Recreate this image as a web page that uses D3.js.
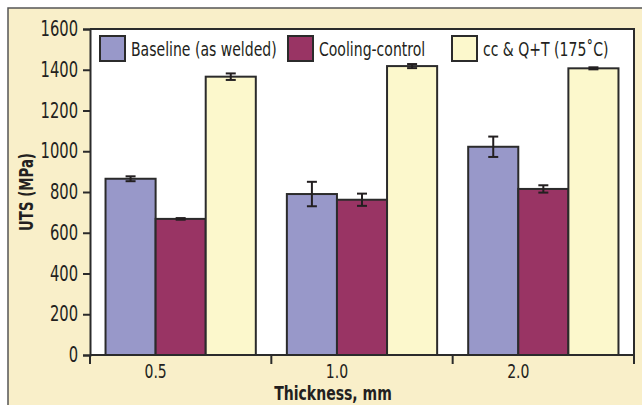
<!DOCTYPE html>
<html>
<head>
<meta charset="utf-8">
<script src="https://cdn.jsdelivr.net/npm/d3@7"></script>
<style>
  body { margin: 0; background: #fff; }
  text { font-family: "DejaVu Sans Condensed", "Liberation Sans", sans-serif; fill: #231f20; }
</style>
</head>
<body>
<div id="chart"></div>
<script>
// data
const thickness = ["0.5", "1.0", "2.0"];
const series = ["Baseline (as welded)", "Cooling-control", "cc & Q+T (175\u02daC)"];
const baseline = [865, 790, 1022];
const baselineErr = [12, 60, 50];
const cooling = [668, 762, 815];
const coolingErr = [4, 30, 18];
const ccqt = [1366, 1418, 1407];
const ccqtErr = [16, 10, 5];
const yTicks = [0, 200, 400, 600, 800, 1000, 1200, 1400, 1600];

const colors = ["#9898c9", "#993464", "#fcf8cc"];

const W = 642, H = 405;
const margin = { top: 29, right: 8, bottom: 50, left: 90 };
const width = W - margin.left - margin.right;
const height = H - margin.top - margin.bottom;
const squeeze = 0.78; // narrow the glyphs like the original's condensed face

const svg = d3.select("#chart").append("svg")
    .attr("width", W)
    .attr("height", H);

// beige panel
svg.append("rect")
    .attr("x", 8).attr("y", 8)
    .attr("width", W).attr("height", H)
    .attr("fill", "#f9efc9")
    .attr("stroke", "#555")
    .attr("stroke-width", 1.5);

const g = svg.append("g")
    .attr("transform", "translate(" + margin.left + "," + margin.top + ")");

// plot background
g.append("rect")
    .attr("width", width).attr("height", height)
    .attr("fill", "#fff");

const x0 = d3.scaleBand()
    .domain(thickness)
    .range([0, width])
    .padding(0);

const x1 = d3.scaleBand()
    .domain(series)
    .range([0, x0.bandwidth()])
    .paddingInner(0)
    .paddingOuter(0.31);

const y = d3.scaleLinear()
    .domain([0, 1600])
    .range([height, 0]);

const values = [baseline, cooling, ccqt];
const errs = [baselineErr, coolingErr, ccqtErr];
const rows = [];
thickness.forEach((t, i) => {
    series.forEach((s, j) => {
        rows.push({ t: t, s: s, j: j, v: values[j][i], e: errs[j][i] });
    });
});

g.selectAll("rect.bar")
    .data(rows)
    .enter()
    .append("rect")
    .attr("class", "bar")
    .attr("x", d => x0(d.t) + x1(d.s))
    .attr("y", d => y(d.v))
    .attr("width", x1.bandwidth())
    .attr("height", d => height - y(d.v))
    .attr("fill", d => colors[d.j])
    .attr("stroke", "#2b2b2b")
    .attr("stroke-width", 2);

// error bars
const eb = g.selectAll("g.err")
    .data(rows)
    .enter()
    .append("g")
    .attr("class", "err")
    .attr("transform", d => "translate(" + (x0(d.t) + x1(d.s) + x1.bandwidth() / 2) + ",0)");

eb.append("line")
    .attr("y1", d => y(d.v + d.e)).attr("y2", d => y(d.v - d.e))
    .attr("stroke", "#231f20").attr("stroke-width", 2);
eb.append("line")
    .attr("x1", -5).attr("x2", 5)
    .attr("y1", d => y(d.v + d.e)).attr("y2", d => y(d.v + d.e))
    .attr("stroke", "#231f20").attr("stroke-width", 2);
eb.append("line")
    .attr("x1", -5).attr("x2", 5)
    .attr("y1", d => y(d.v - d.e)).attr("y2", d => y(d.v - d.e))
    .attr("stroke", "#231f20").attr("stroke-width", 2);

// frame top/right
g.append("path")
    .attr("d", "M0,0H" + width + "V" + height)
    .attr("fill", "none")
    .attr("stroke", "#2b2b2b")
    .attr("stroke-width", 2);

// y axis
const yAxis = g.append("g")
    .call(d3.axisLeft(y).tickValues(yTicks).tickFormat(d3.format("d")).tickSize(7).tickPadding(5));
yAxis.select(".domain").attr("stroke", "#2b2b2b").attr("stroke-width", 2);
yAxis.selectAll(".tick line").attr("stroke", "#2b2b2b").attr("stroke-width", 2);
yAxis.selectAll("text").style("font-size", "21px").attr("fill", "#231f20");

// x axis: ticks on band edges
const xAxis = g.append("g")
    .attr("transform", "translate(0," + height + ")");
xAxis.append("line")
    .attr("x1", 0).attr("x2", width)
    .attr("stroke", "#2b2b2b").attr("stroke-width", 2);
const edges = thickness.map(t => x0(t)).concat([width]);
xAxis.selectAll("line.tk")
    .data(edges)
    .enter()
    .append("line")
    .attr("class", "tk")
    .attr("x1", d => d).attr("x2", d => d)
    .attr("y1", 0).attr("y2", 9)
    .attr("stroke", "#2b2b2b").attr("stroke-width", 2);
xAxis.selectAll("text.lbl")
    .data(thickness)
    .enter()
    .append("text")
    .attr("class", "lbl")
    .attr("x", d => x0(d) + x1(series[1]))
    .attr("y", 23)
    .attr("text-anchor", "middle")
    .style("font-size", "20px")
    .text(d => d);

// axis titles
svg.append("text")
    .attr("x", 333)
    .attr("y", 400)
    .attr("text-anchor", "middle")
    .style("font-size", "20px")
    .style("font-weight", "bold")
    .text("Thickness, mm");

svg.append("text")
    .attr("transform", "translate(33," + (margin.top + height / 2) + ") rotate(-90)")
    .attr("text-anchor", "middle")
    .style("font-size", "19px")
    .style("font-weight", "bold")
    .text("UTS (MPa)");

// legend
const legX = [10, 198, 362];
const leg = g.selectAll("g.leg")
    .data(series)
    .enter()
    .append("g")
    .attr("class", "leg")
    .attr("transform", (d, i) => "translate(" + legX[i] + ",7)");
leg.append("rect")
    .attr("width", 25).attr("height", 25)
    .attr("fill", (d, i) => colors[i])
    .attr("stroke", "#2b2b2b")
    .attr("stroke-width", 2);
leg.append("text")
    .attr("x", 31)
    .attr("y", 20)
    .style("font-size", "20px")
    .text(d => d);

// squeeze every text horizontally around its own anchor
svg.selectAll("text").each(function() {
    const t = d3.select(this);
    const x = +(t.attr("x") || 0);
    const tr = t.attr("transform") || "";
    t.attr("x", x / squeeze)
        .attr("transform", tr + " scale(" + squeeze + ",1)");
});
</script>
</body>
</html>
